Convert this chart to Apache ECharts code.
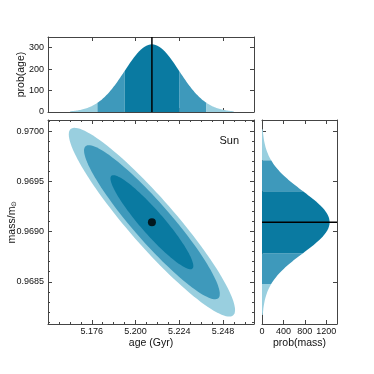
<!DOCTYPE html>
<html>
<head>
<meta charset="utf-8">
<script src="https://cdn.jsdelivr.net/npm/echarts@6/dist/echarts.min.js"></script>
<style>
html, body { margin: 0; padding: 0; background: #fff; }
#chart { width: 374px; height: 374px; }
</style>
</head>
<body>
<div id="chart"></div>
<script>
// posterior for the Sun: age / mass
var ageMean = 5.209, ageSigma = 0.01495, agePeak = 316;
var massMean = 0.969093, massSigma = 0.000308, massPeak = 1262;
var massAgeCorr = -0.93;

// 2d contours, outer -> inner (in sigma units)
var contourLevels = [3.05, 2.49, 1.52];
var contourShade = [2, 1, 0];

// 1d bands (sigma units)
var bandLo = [-3, -2, -1, 1, 2];
var bandHi = [-2, -1, 1, 2, 3];
var bandShade = [2, 1, 0, 1, 2];

var shades = ['#0a7aa1', '#3e99bb', '#99cfdf'];

// tick labels
var ageTicks = [5.176, 5.200, 5.224, 5.248];
var massTicks = [0.9685, 0.9690, 0.9695, 0.9700];
var probAgeTicks = [0, 100, 200, 300];
var probMassTicks = [0, 400, 800, 1200];

var massMinor = [];
for (var m = 9681; m <= 9701; m++) massMinor.push(m / 10000);

var FONT = "'Liberation Sans', Arial, sans-serif";
var LINE = '#444';

var chart = echarts.init(document.getElementById('chart'));

// one frame side: line + inward ticks
function side(o) {
    var a = {
        type: 'value',
        gridIndex: o.grid,
        position: o.pos,
        min: o.min,
        max: o.max,
        interval: o.interval,
        axisLine: { show: o.line !== false, onZero: false, lineStyle: { color: LINE, width: 1 } },
        axisTick: { show: true, inside: true, length: o.tickLen || 4, lineStyle: { color: LINE, width: 1 } },
        axisLabel: { show: false },
        splitLine: { show: false },
        minorTick: { show: !!o.minor, splitNumber: o.minor || 5, length: 2, lineStyle: { color: LINE } },
        silent: true
    };
    if (o.custom) a.axisTick.customValues = o.custom;
    if (o.labels) {
        a.axisLabel = {
            show: true, fontSize: 9, color: '#111', fontFamily: FONT, margin: o.margin || 3,
            formatter: o.fmt
        };
        if (o.custom) a.axisLabel.customValues = o.labels;
    }
    if (o.name) {
        a.name = o.name;
        a.nameLocation = 'middle';
        a.nameGap = o.nameGap;
        a.nameMoveOverlap = false;
        a.nameTextStyle = { fontSize: 10.5, color: '#111', fontFamily: FONT, rich: o.rich };
    }
    return a;
}

function inList(list, dec) {
    return function (v) {
        for (var i = 0; i < list.length; i++) {
            if (Math.abs(list[i] - v) < 1e-9) return list[i].toFixed(dec);
        }
        return '';
    };
}

// filled gaussian bands for the side panels
function bandRender(mean, sigma, peak, horizontal) {
    return function (params, api) {
        var i = params.dataIndex;
        var lo = bandLo[i], hi = bandHi[i];
        var pts = [];
        var n = 30;
        for (var j = 0; j <= n; j++) {
            var z = lo + (hi - lo) * j / n;
            var p = peak * Math.exp(-0.5 * z * z);
            var v = mean + z * sigma;
            pts.push(api.coord(horizontal ? [p, v] : [v, p]));
        }
        pts.push(api.coord(horizontal ? [0, mean + hi * sigma] : [mean + hi * sigma, 0]));
        pts.push(api.coord(horizontal ? [0, mean + lo * sigma] : [mean + lo * sigma, 0]));
        return { type: 'polygon', shape: { points: pts }, style: { fill: shades[bandShade[i]] } };
    };
}

function ellipseRender(params, api) {
    var i = params.dataIndex;
    var k = contourLevels[i];
    var r = massAgeCorr, s = Math.sqrt(1 - r * r);
    var pts = [];
    for (var j = 0; j < 120; j++) {
        var t = j / 120 * Math.PI * 2;
        var u = k * Math.cos(t), w = k * Math.sin(t);
        pts.push(api.coord([ageMean + ageSigma * u, massMean + massSigma * (r * u + s * w)]));
    }
    return { type: 'polygon', shape: { points: pts }, style: { fill: shades[contourShade[i]] } };
}

var idx = bandLo.map(function (d, i) { return [i, i]; });

chart.setOption({
    animation: false,
    textStyle: { fontFamily: FONT },
    title: {
        text: 'Sun', right: 130, top: 130,
        textStyle: { fontSize: 11, fontWeight: 'normal', color: '#111', fontFamily: FONT }
    },
    grid: [
        { left: 48, top: 37, width: 206, height: 75, outerBoundsMode: 'none', containLabel: false },
        { left: 48, top: 120, width: 206, height: 204, outerBoundsMode: 'none', containLabel: false },
        { left: 262, top: 120, width: 75, height: 204, outerBoundsMode: 'none', containLabel: false }
    ],
    xAxis: [
        side({ grid: 0, pos: 'bottom', min: 5.152, max: 5.265, interval: 0.024 }),
        side({ grid: 0, pos: 'top', min: 5.152, max: 5.265, interval: 0.024 }),
        side({ grid: 1, pos: 'bottom', min: 5.152, max: 5.265, interval: 0.024, minor: 4,
            labels: true, fmt: inList(ageTicks, 3), name: 'age (Gyr)', nameGap: 14 }),
        side({ grid: 1, pos: 'top', min: 5.152, max: 5.265, interval: 0.024, minor: 4 }),
        side({ grid: 2, pos: 'bottom', min: 0, max: 1400, interval: 400,
            labels: true, fmt: inList(probMassTicks, 0), name: 'prob(mass)', nameGap: 14 }),
        side({ grid: 2, pos: 'top', min: 0, max: 1400, interval: 400 })
    ],
    yAxis: [
        side({ grid: 0, pos: 'left', min: 0, max: 350, interval: 100,
            labels: true, margin: 4, fmt: inList(probAgeTicks, 0), name: 'prob(age)', nameGap: 21 }),
        side({ grid: 0, pos: 'right', min: 0, max: 350, interval: 100 }),
        side({ grid: 1, pos: 'left', min: 0.96808, max: 0.97011, custom: massTicks,
            labels: massTicks, margin: 4, fmt: function (v) { return v.toFixed(4); },
            name: 'mass/m{s|⊙}', nameGap: 30,
            rich: { s: { fontSize: 7, verticalAlign: 'bottom', color: '#111', fontFamily: FONT } } }),
        side({ grid: 1, pos: 'left', min: 0.96808, max: 0.97011, custom: massMinor, tickLen: 2, line: false }),
        side({ grid: 1, pos: 'right', min: 0.96808, max: 0.97011, custom: massTicks }),
        side({ grid: 1, pos: 'right', min: 0.96808, max: 0.97011, custom: massMinor, tickLen: 2, line: false }),
        side({ grid: 2, pos: 'left', min: 0.96808, max: 0.97011, custom: massTicks }),
        side({ grid: 2, pos: 'right', min: 0.96808, max: 0.97011, custom: massTicks })
    ],
    series: [
        {
            type: 'custom', xAxisIndex: 0, yAxisIndex: 0, silent: true,
            renderItem: bandRender(ageMean, ageSigma, agePeak, false), data: idx
        },
        {
            type: 'line', xAxisIndex: 0, yAxisIndex: 0, silent: true, symbol: 'none',
            lineStyle: { color: '#000', width: 1.5 },
            data: [[ageMean, 0], [ageMean, 350]]
        },
        {
            type: 'custom', xAxisIndex: 2, yAxisIndex: 2, silent: true,
            renderItem: ellipseRender, data: contourLevels.map(function (k, i) { return [i, i]; })
        },
        {
            type: 'scatter', xAxisIndex: 2, yAxisIndex: 2, silent: true,
            symbolSize: 8, itemStyle: { color: '#000' },
            data: [[ageMean, massMean]]
        },
        {
            type: 'custom', xAxisIndex: 4, yAxisIndex: 6, silent: true,
            renderItem: bandRender(massMean, massSigma, massPeak, true), data: idx
        },
        {
            type: 'line', xAxisIndex: 4, yAxisIndex: 6, silent: true, symbol: 'none',
            lineStyle: { color: '#000', width: 1.5 },
            data: [[0, massMean], [1400, massMean]]
        }
    ]
});
</script>
</body>
</html>
